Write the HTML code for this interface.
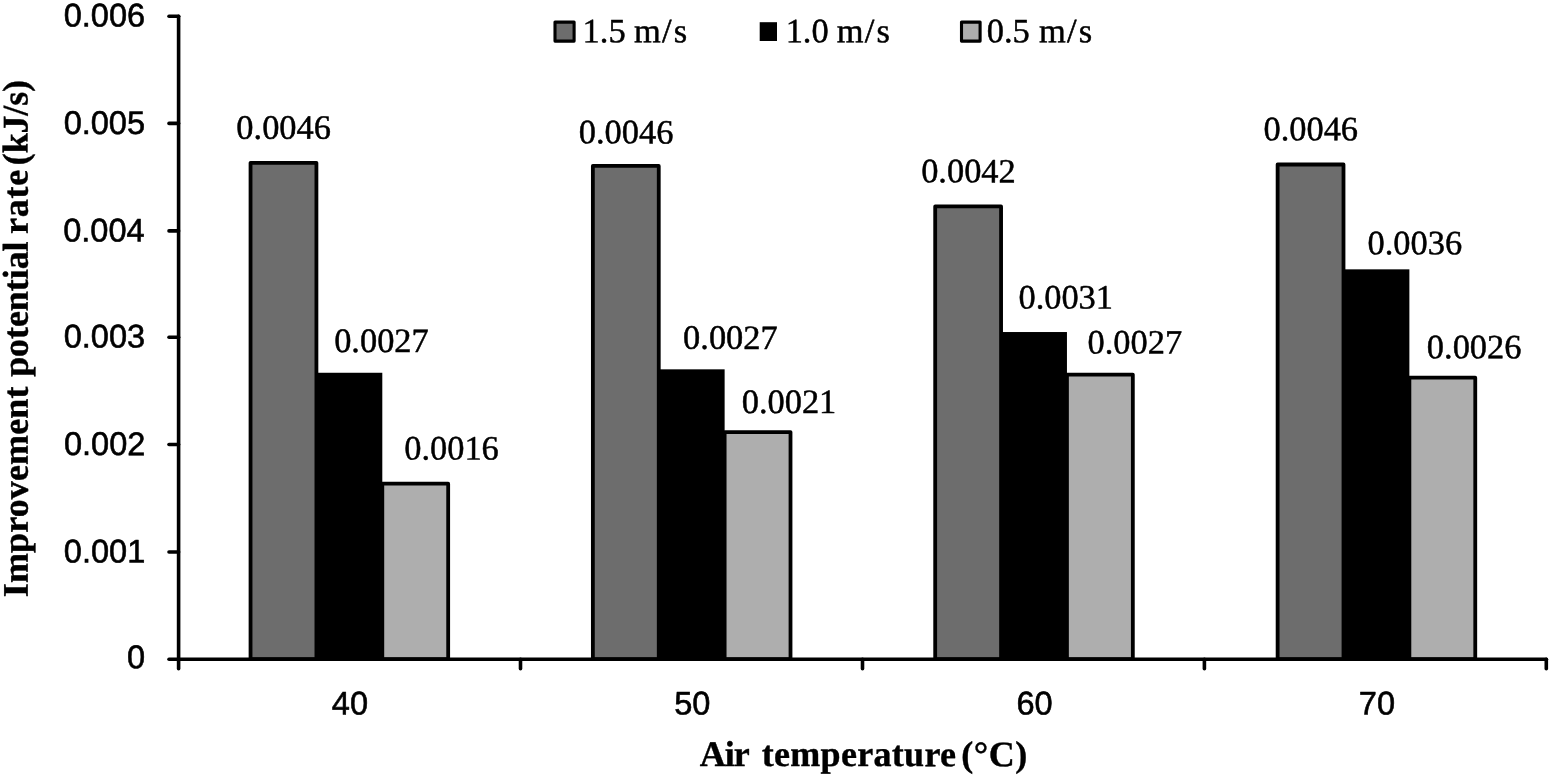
<!DOCTYPE html>
<html lang="en"><head><meta charset="utf-8"><title>Improvement potential rate vs air temperature</title>
<style>html,body{margin:0;padding:0;background:#fff}body{width:1552px;height:778px;overflow:hidden}svg{display:block}text{text-rendering:geometricPrecision}.t{font-family:"Liberation Sans",sans-serif;font-size:32.8px;fill:#000;stroke:#000;stroke-width:.6px;stroke-linejoin:round}.d{font-family:"Liberation Serif",serif;font-size:34.4px;fill:#000;stroke:#000;stroke-width:.5px;stroke-linejoin:round}.b{font-family:"Liberation Serif",serif;font-weight:bold;font-size:36px;fill:#000;stroke:#000;stroke-width:.4px;stroke-linejoin:round}</style></head><body>
<svg width="1552" height="778" viewBox="0 0 1552 778">
<rect width="1552" height="778" fill="#fff"/>
<g stroke="#000" stroke-width="3.8" stroke-linejoin="round">
<rect x="250.54" y="162.80" width="65.88" height="496.40" fill="#6d6d6d"/>
<rect x="316.42" y="372.76" width="65.88" height="286.44" fill="#000" stroke="none"/>
<rect x="382.30" y="483.66" width="65.88" height="175.54" fill="#aeaeae"/>
<rect x="592.87" y="165.91" width="65.88" height="493.29" fill="#6d6d6d"/>
<rect x="658.75" y="369.33" width="65.88" height="289.87" fill="#000" stroke="none"/>
<rect x="724.63" y="432.11" width="65.88" height="227.09" fill="#aeaeae"/>
<rect x="935.19" y="206.42" width="65.88" height="452.78" fill="#6d6d6d"/>
<rect x="1001.07" y="332.03" width="65.88" height="327.17" fill="#000" stroke="none"/>
<rect x="1066.95" y="374.57" width="65.88" height="284.63" fill="#aeaeae"/>
<rect x="1277.62" y="164.52" width="65.88" height="494.68" fill="#6d6d6d"/>
<rect x="1343.50" y="269.34" width="65.88" height="389.86" fill="#000" stroke="none"/>
<rect x="1409.38" y="377.67" width="65.88" height="281.53" fill="#aeaeae"/>
</g>
<g stroke="#000" stroke-width="3.6" stroke-linecap="round" fill="none">
<path d="M178.6 16.2 V659.2"/>
<path d="M178.6 659.2 H1546.3"/>
<path d="M169.0 659.2 H178.6"/>
<path d="M169.0 552.0 H178.6"/>
<path d="M169.0 444.5 H178.6"/>
<path d="M169.0 337.3 H178.6"/>
<path d="M169.0 230.9 H178.6"/>
<path d="M169.0 123.4 H178.6"/>
<path d="M169.0 16.2 H178.6"/>
<path d="M178.6 659.2 V668.8"/>
<path d="M520.5 659.2 V668.8"/>
<path d="M862.5 659.2 V668.8"/>
<path d="M1204.4 659.2 V668.8"/>
<path d="M1546.3 659.2 V668.8"/>
</g>
<text class="t" transform="translate(126.88 668.30) rotate(0.03) scale(0.992 1)">0</text>
<text class="t" transform="translate(63.87 562.55) rotate(0.03) scale(0.992 1)">0.001</text>
<text class="t" transform="translate(63.91 455.10) rotate(0.03) scale(0.992 1)">0.002</text>
<text class="t" transform="translate(63.71 347.40) rotate(0.03) scale(0.992 1)">0.003</text>
<text class="t" transform="translate(63.23 241.55) rotate(0.03) scale(0.992 1)">0.004</text>
<text class="t" transform="translate(63.64 134.00) rotate(0.03) scale(0.992 1)">0.005</text>
<text class="t" transform="translate(63.71 26.55) rotate(0.03) scale(0.992 1)">0.006</text>
<text class="t" transform="translate(331.87 714.6) rotate(0.03) scale(0.992 1)">40</text>
<text class="t" transform="translate(674.19 714.6) rotate(0.03) scale(0.992 1)">50</text>
<text class="t" transform="translate(1016.46 714.6) rotate(0.03) scale(0.992 1)">60</text>
<text class="t" transform="translate(1358.81 714.6) rotate(0.03) scale(0.992 1)">70</text>
<text class="d" transform="translate(236.36 138.75) rotate(0.03) scale(1 0.99)">0.0046</text>
<text class="d" transform="translate(334.14 352.05) rotate(0.03) scale(1 0.99)">0.0027</text>
<text class="d" transform="translate(404.21 459.55) rotate(0.03) scale(1 0.99)">0.0016</text>
<text class="d" transform="translate(578.76 143.35) rotate(0.03) scale(1 0.99)">0.0046</text>
<text class="d" transform="translate(683.09 348.85) rotate(0.03) scale(1 0.99)">0.0027</text>
<text class="d" transform="translate(741.73 412.95) rotate(0.03) scale(1 0.99)">0.0021</text>
<text class="d" transform="translate(921.14 182.35) rotate(0.03) scale(1 0.99)">0.0042</text>
<text class="d" transform="translate(1018.43 308.55) rotate(0.03) scale(1 0.99)">0.0031</text>
<text class="d" transform="translate(1087.54 353.55) rotate(0.03) scale(1 0.99)">0.0027</text>
<text class="d" transform="translate(1263.46 140.15) rotate(0.03) scale(1 0.99)">0.0046</text>
<text class="d" transform="translate(1367.51 254.25) rotate(0.03) scale(1 0.99)">0.0036</text>
<text class="d" transform="translate(1426.86 358.15) rotate(0.03) scale(1 0.99)">0.0026</text>
<rect x="555.0" y="22.1" width="19.1" height="19.0" fill="#6d6d6d" stroke="#000" stroke-width="3.1" stroke-linejoin="round"/>
<text class="d" transform="translate(582.58 42.2) rotate(0.03) scale(1 0.99)" x="0.00 17.20 25.80 43.00 51.30 79.46 91.25">1.5 m/s</text>
<rect x="759.7" y="22.2" width="17.3" height="18.8" fill="#000"/>
<text class="d" transform="translate(785.68 42.2) rotate(0.03) scale(1 0.99)" x="0.00 17.20 25.80 43.00 51.00 79.16 90.95">1.0 m/s</text>
<rect x="961.5" y="22.1" width="18.6" height="19.0" fill="#aeaeae" stroke="#000" stroke-width="3.1" stroke-linejoin="round"/>
<text class="d" transform="translate(986.69 42.2) rotate(0.03) scale(1 0.99)" x="0.00 17.20 25.80 43.00 52.19 80.35 92.13">0.5 m/s</text>
<text class="b" transform="translate(863 766.1) rotate(0.03)"><tspan x="-163.35" letter-spacing="-0.93">Air</tspan> <tspan x="-101.38" letter-spacing="0.32">temperature</tspan> <tspan x="98.32" letter-spacing="0.53">(°C)</tspan></text>
<text class="b" transform="translate(27.7 339) rotate(-90.03)"><tspan x="-258.21" letter-spacing="0.13">Improvement</tspan> <tspan x="-37.86" letter-spacing="-0.07">potential</tspan> <tspan x="105.03" letter-spacing="0.78">rate</tspan> <tspan x="173.82" letter-spacing="-0.17">(kJ/s)</tspan></text>
</svg></body></html>
